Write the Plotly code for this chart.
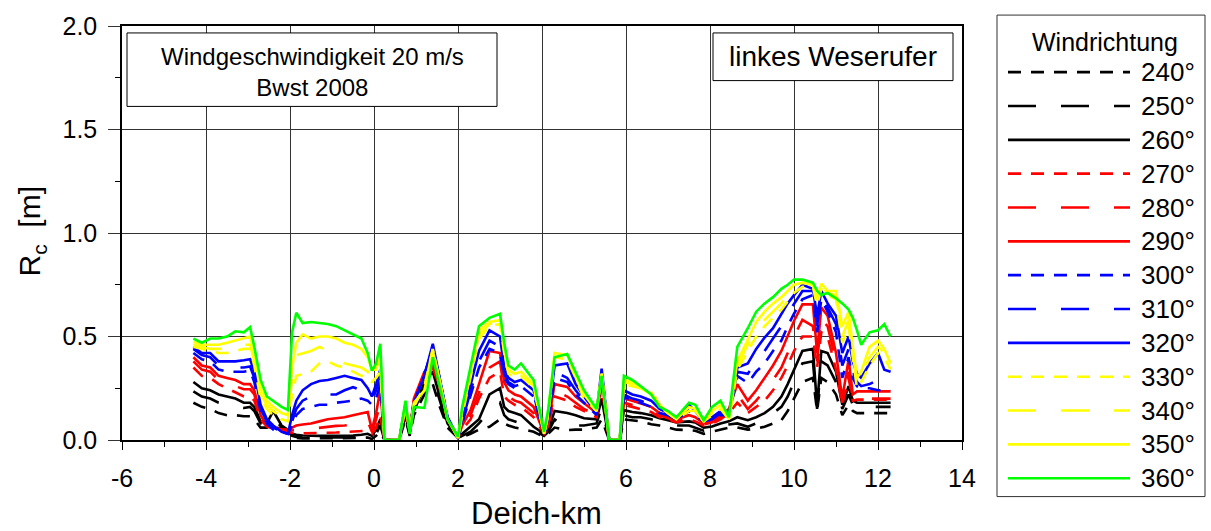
import plotly.graph_objects as go

# Deich-km stations along the left bank
deich_km = [
    -4.3, -4.1, -3.9, -3.7, -3.5, -3.3, -3.1, -2.95, -2.85, -2.7,
    -2.55, -2.4, -2.2, -2.05, -1.95, -1.85, -1.7, -1.5, -1.3, -1.1,
    -0.9, -0.7, -0.5, -0.3, -0.15, -0.05, 0.05, 0.15, 0.25, 0.6,
    0.75, 0.85, 0.95, 1.2, 1.4, 1.55, 1.75, 1.9, 2.0, 2.1,
    2.3, 2.5, 2.75, 3.0, 3.1, 3.2, 3.35, 3.5, 3.8, 4.05,
    4.15, 4.3, 4.6, 4.8, 5.0, 5.3, 5.42, 5.6, 5.85, 5.95,
    6.15, 6.35, 6.6, 6.8, 7.0, 7.2, 7.5, 7.65, 7.85, 8.05,
    8.25, 8.45, 8.65, 8.9, 9.1, 9.3, 9.5, 9.7, 9.85, 10.0,
    10.2, 10.45, 10.55, 10.65, 10.8, 11.0, 11.15, 11.3, 11.4, 11.5,
    11.6, 11.8, 12.0, 12.15, 12.3,
]

# Freibord R_c [m] per wind direction
rc_240 = [
    0.18, 0.16, 0.15, 0.13, 0.12, 0.12, 0.115, 0.115, 0.10, 0.06,
    0.06, 0.07, 0.05, 0.03, 0.012, 0.01, 0.008, 0.008, 0.008, 0.008,
    0.008, 0.008, 0.008, 0.01, 0.012, 0.005, 0.02, 0.04, 0.0, 0.0,
    0.10, 0.02, 0.12, 0.22, 0.27, 0.17, 0.06, 0.03, 0.01, 0.015,
    0.03, 0.05, 0.064, 0.10, 0.08, 0.07, 0.06, 0.055, 0.04, 0.015,
    0.03, 0.06, 0.048, 0.05, 0.05, 0.06, 0.10, 0.0, 0.0, 0.10,
    0.095, 0.09, 0.076, 0.07, 0.06, 0.05, 0.048, 0.045, 0.03, 0.04,
    0.05, 0.06, 0.06, 0.05, 0.055, 0.064, 0.08, 0.096, 0.14, 0.20,
    0.28, 0.30, 0.14, 0.30, 0.28, 0.22, 0.12, 0.17, 0.14, 0.13,
    0.13, 0.13, 0.13, 0.13, 0.13,
]
rc_250 = [
    0.235, 0.21, 0.20, 0.18, 0.17, 0.16, 0.155, 0.16, 0.14, 0.08,
    0.07, 0.11, 0.06, 0.04, 0.02, 0.015, 0.013, 0.012, 0.012, 0.012,
    0.012, 0.012, 0.013, 0.015, 0.02, 0.01, 0.03, 0.07, 0.0, 0.0,
    0.12, 0.03, 0.14, 0.26, 0.30, 0.20, 0.07, 0.03, 0.01, 0.02,
    0.04, 0.08, 0.14, 0.18, 0.12, 0.10, 0.09, 0.08, 0.05, 0.02,
    0.04, 0.10, 0.06, 0.07, 0.07, 0.08, 0.16, 0.0, 0.0, 0.12,
    0.11, 0.11, 0.10, 0.09, 0.08, 0.07, 0.07, 0.06, 0.045, 0.05,
    0.065, 0.075, 0.08, 0.064, 0.08, 0.105, 0.13, 0.16, 0.21, 0.28,
    0.37, 0.38, 0.15, 0.38, 0.36, 0.28, 0.15, 0.22, 0.17, 0.16,
    0.16, 0.16, 0.16, 0.16, 0.16,
]
rc_260 = [
    0.28, 0.25, 0.24, 0.22, 0.21, 0.20, 0.18, 0.18, 0.16, 0.09,
    0.08, 0.14, 0.07, 0.05, 0.03, 0.025, 0.022, 0.02, 0.02, 0.02,
    0.02, 0.02, 0.022, 0.025, 0.03, 0.02, 0.05, 0.10, 0.0, 0.0,
    0.13, 0.03, 0.15, 0.28, 0.33, 0.22, 0.08, 0.04, 0.01, 0.03,
    0.064, 0.10, 0.22, 0.25, 0.16, 0.14, 0.13, 0.12, 0.064, 0.03,
    0.05, 0.14, 0.13, 0.12, 0.105, 0.10, 0.20, 0.0, 0.0, 0.144,
    0.135, 0.13, 0.12, 0.105, 0.096, 0.085, 0.09, 0.085, 0.06, 0.065,
    0.08, 0.09, 0.11, 0.096, 0.11, 0.13, 0.16, 0.21, 0.27, 0.336,
    0.43, 0.44, 0.16, 0.43, 0.42, 0.33, 0.17, 0.26, 0.19, 0.18,
    0.18, 0.18, 0.18, 0.18, 0.18,
]
rc_270 = [
    0.35, 0.31, 0.30, 0.27, 0.25, 0.23, 0.21, 0.21, 0.19, 0.10,
    0.065, 0.055, 0.045, 0.04, 0.035, 0.032, 0.032, 0.033, 0.034, 0.035,
    0.036, 0.038, 0.04, 0.042, 0.045, 0.03, 0.06, 0.12, 0.0, 0.0,
    0.15, 0.04, 0.18, 0.31, 0.35, 0.26, 0.10, 0.05, 0.01, 0.05,
    0.10, 0.20, 0.30, 0.33, 0.21, 0.19, 0.17, 0.16, 0.11, 0.03,
    0.06, 0.21, 0.19, 0.16, 0.14, 0.11, 0.26, 0.0, 0.0, 0.17,
    0.16, 0.15, 0.135, 0.11, 0.10, 0.085, 0.10, 0.09, 0.07, 0.08,
    0.10, 0.13, 0.18, 0.13, 0.16, 0.19, 0.24, 0.30, 0.36, 0.43,
    0.50, 0.50, 0.35, 0.52, 0.50, 0.34, 0.17, 0.30, 0.19, 0.195,
    0.195, 0.195, 0.195, 0.195, 0.195,
]
rc_280 = [
    0.38, 0.34, 0.33, 0.29, 0.27, 0.26, 0.245, 0.245, 0.22, 0.11,
    0.07, 0.06, 0.05, 0.045, 0.045, 0.048, 0.05, 0.055, 0.06, 0.065,
    0.068, 0.07, 0.075, 0.085, 0.09, 0.04, 0.10, 0.18, 0.0, 0.0,
    0.15, 0.04, 0.19, 0.32, 0.36, 0.27, 0.10, 0.05, 0.01, 0.06,
    0.12, 0.23, 0.35, 0.38, 0.24, 0.21, 0.19, 0.18, 0.13, 0.03,
    0.07, 0.24, 0.21, 0.18, 0.15, 0.12, 0.28, 0.0, 0.0, 0.18,
    0.17, 0.16, 0.145, 0.12, 0.105, 0.09, 0.11, 0.10, 0.075, 0.085,
    0.11, 0.14, 0.22, 0.15, 0.19, 0.24, 0.29, 0.35, 0.42, 0.50,
    0.58, 0.55, 0.38, 0.58, 0.55, 0.38, 0.18, 0.33, 0.20, 0.20,
    0.20, 0.20, 0.20, 0.20, 0.20,
]
rc_290 = [
    0.40, 0.36, 0.35, 0.31, 0.30, 0.29, 0.27, 0.27, 0.24, 0.12,
    0.07, 0.06, 0.05, 0.05, 0.06, 0.07, 0.075, 0.08, 0.09, 0.10,
    0.105, 0.11, 0.12, 0.13, 0.135, 0.05, 0.13, 0.24, 0.0, 0.0,
    0.16, 0.04, 0.20, 0.33, 0.37, 0.28, 0.10, 0.05, 0.01, 0.07,
    0.144, 0.27, 0.43, 0.42, 0.28, 0.24, 0.22, 0.21, 0.16, 0.03,
    0.08, 0.27, 0.256, 0.21, 0.177, 0.13, 0.30, 0.0, 0.0, 0.20,
    0.19, 0.177, 0.16, 0.13, 0.115, 0.10, 0.12, 0.11, 0.08, 0.09,
    0.12, 0.15, 0.27, 0.19, 0.24, 0.30, 0.36, 0.43, 0.50, 0.575,
    0.655, 0.655, 0.42, 0.64, 0.60, 0.42, 0.20, 0.39, 0.22, 0.235,
    0.235, 0.235, 0.235, 0.235, 0.235,
]
rc_300 = [
    0.42, 0.39, 0.38, 0.34, 0.33, 0.33, 0.33, 0.335, 0.28, 0.14,
    0.08, 0.05, 0.04, 0.03, 0.07, 0.12, 0.15, 0.16, 0.17, 0.17,
    0.18, 0.185, 0.19, 0.20, 0.19, 0.17, 0.20, 0.27, 0.0, 0.0,
    0.17, 0.04, 0.18, 0.32, 0.44, 0.31, 0.11, 0.05, 0.01, 0.08,
    0.21, 0.35, 0.44, 0.42, 0.30, 0.27, 0.25, 0.26, 0.21, 0.03,
    0.09, 0.30, 0.28, 0.22, 0.18, 0.12, 0.32, 0.0, 0.0, 0.21,
    0.19, 0.18, 0.16, 0.13, 0.12, 0.10, 0.14, 0.12, 0.09, 0.10,
    0.12, 0.12, 0.31, 0.275, 0.33, 0.37, 0.43, 0.48, 0.55, 0.61,
    0.68, 0.70, 0.52, 0.68, 0.62, 0.52, 0.30, 0.40, 0.30, 0.26,
    0.25, 0.25, 0.24, 0.24, 0.24,
]
rc_310 = [
    0.44, 0.41, 0.40, 0.36, 0.35, 0.35, 0.35, 0.355, 0.30, 0.15,
    0.09, 0.06, 0.04, 0.03, 0.09, 0.15, 0.19, 0.21, 0.23, 0.22,
    0.22, 0.24, 0.255, 0.24, 0.21, 0.19, 0.24, 0.30, 0.0, 0.0,
    0.17, 0.04, 0.18, 0.31, 0.45, 0.31, 0.11, 0.05, 0.01, 0.09,
    0.24, 0.38, 0.48, 0.45, 0.32, 0.28, 0.26, 0.27, 0.22, 0.03,
    0.10, 0.33, 0.30, 0.24, 0.19, 0.13, 0.33, 0.0, 0.0, 0.22,
    0.20, 0.19, 0.17, 0.14, 0.12, 0.10, 0.15, 0.13, 0.09, 0.10,
    0.13, 0.12, 0.33, 0.32, 0.38, 0.43, 0.49, 0.55, 0.61, 0.66,
    0.72, 0.72, 0.55, 0.70, 0.64, 0.56, 0.36, 0.44, 0.33, 0.28,
    0.26, 0.27, 0.29, 0.25, 0.24,
]
rc_320 = [
    0.45, 0.42, 0.42, 0.38, 0.38, 0.38, 0.385, 0.39, 0.33, 0.17,
    0.10, 0.07, 0.04, 0.03, 0.12, 0.19, 0.24, 0.27, 0.285, 0.29,
    0.30, 0.31, 0.30, 0.29, 0.25, 0.21, 0.27, 0.34, 0.0, 0.0,
    0.17, 0.04, 0.18, 0.31, 0.465, 0.31, 0.11, 0.05, 0.01, 0.10,
    0.27, 0.43, 0.53, 0.50, 0.35, 0.30, 0.28, 0.29, 0.24, 0.03,
    0.11, 0.36, 0.37, 0.27, 0.21, 0.13, 0.345, 0.0, 0.0, 0.24,
    0.22, 0.21, 0.19, 0.15, 0.13, 0.10, 0.17, 0.14, 0.09, 0.11,
    0.14, 0.12, 0.35, 0.37, 0.44, 0.495, 0.54, 0.61, 0.66, 0.70,
    0.75, 0.73, 0.60, 0.72, 0.66, 0.60, 0.42, 0.50, 0.38, 0.32,
    0.30, 0.37, 0.42, 0.34, 0.33,
]
rc_330 = [
    0.45, 0.44, 0.43, 0.42, 0.42, 0.43, 0.44, 0.44, 0.36, 0.20,
    0.15, 0.12, 0.10, 0.09, 0.22, 0.31, 0.32, 0.33, 0.37, 0.38,
    0.36, 0.35, 0.33, 0.31, 0.30, 0.28, 0.30, 0.33, 0.0, 0.0,
    0.16, 0.04, 0.16, 0.26, 0.44, 0.30, 0.10, 0.05, 0.01, 0.12,
    0.30, 0.49, 0.55, 0.56, 0.42, 0.32, 0.30, 0.31, 0.25, 0.03,
    0.12, 0.40, 0.39, 0.30, 0.20, 0.14, 0.32, 0.0, 0.0, 0.27,
    0.26, 0.25, 0.23, 0.16, 0.13, 0.10, 0.14, 0.14, 0.09, 0.12,
    0.15, 0.10, 0.34, 0.43, 0.50, 0.55, 0.59, 0.63, 0.67, 0.71,
    0.74, 0.74, 0.65, 0.73, 0.70, 0.68, 0.47, 0.55, 0.40, 0.25,
    0.28, 0.36, 0.42, 0.40, 0.34,
]
rc_340 = [
    0.46, 0.45, 0.44, 0.44, 0.44, 0.45, 0.46, 0.46, 0.38, 0.22,
    0.17, 0.14, 0.11, 0.10, 0.30, 0.41, 0.42, 0.43, 0.45, 0.43,
    0.40, 0.37, 0.36, 0.35, 0.33, 0.30, 0.31, 0.36, 0.0, 0.0,
    0.17, 0.04, 0.17, 0.25, 0.44, 0.30, 0.10, 0.05, 0.01, 0.13,
    0.32, 0.51, 0.56, 0.57, 0.43, 0.33, 0.31, 0.32, 0.26, 0.03,
    0.13, 0.41, 0.40, 0.31, 0.21, 0.14, 0.32, 0.0, 0.0, 0.28,
    0.27, 0.26, 0.24, 0.17, 0.13, 0.10, 0.15, 0.14, 0.09, 0.13,
    0.16, 0.10, 0.36, 0.46, 0.53, 0.58, 0.62, 0.66, 0.70, 0.74,
    0.76, 0.75, 0.66, 0.74, 0.71, 0.70, 0.50, 0.58, 0.42, 0.27,
    0.30, 0.40, 0.45, 0.42, 0.36,
]
rc_350 = [
    0.475, 0.46, 0.46, 0.46, 0.47, 0.48, 0.49, 0.50, 0.42, 0.25,
    0.19, 0.16, 0.13, 0.12, 0.35, 0.47, 0.51, 0.49, 0.50, 0.50,
    0.49, 0.47, 0.46, 0.44, 0.40, 0.34, 0.34, 0.40, 0.0, 0.0,
    0.18, 0.04, 0.18, 0.24, 0.43, 0.30, 0.10, 0.05, 0.01, 0.14,
    0.335, 0.53, 0.57, 0.58, 0.45, 0.34, 0.32, 0.33, 0.27, 0.03,
    0.14, 0.42, 0.41, 0.32, 0.22, 0.14, 0.32, 0.0, 0.0, 0.29,
    0.28, 0.25, 0.22, 0.17, 0.13, 0.10, 0.16, 0.15, 0.09, 0.14,
    0.17, 0.10, 0.38, 0.49, 0.57, 0.62, 0.66, 0.69, 0.72, 0.75,
    0.76, 0.75, 0.68, 0.755, 0.72, 0.72, 0.55, 0.62, 0.45, 0.30,
    0.33, 0.45, 0.48, 0.44, 0.37,
]
rc_360 = [
    0.49, 0.47, 0.49, 0.49, 0.50, 0.525, 0.52, 0.545, 0.45, 0.29,
    0.21, 0.19, 0.16, 0.145, 0.52, 0.615, 0.565, 0.57, 0.565, 0.56,
    0.55, 0.53, 0.51, 0.49, 0.42, 0.335, 0.37, 0.465, 0.0, 0.0,
    0.19, 0.03, 0.16, 0.155, 0.40, 0.27, 0.10, 0.05, 0.015, 0.16,
    0.35, 0.55, 0.59, 0.61, 0.47, 0.36, 0.34, 0.37, 0.29, 0.04,
    0.15, 0.40, 0.415, 0.33, 0.24, 0.15, 0.31, 0.0, 0.0, 0.31,
    0.29, 0.26, 0.22, 0.16, 0.14, 0.11, 0.18, 0.17, 0.096, 0.16,
    0.19, 0.11, 0.45, 0.54, 0.62, 0.66, 0.69, 0.73, 0.75, 0.775,
    0.775, 0.76, 0.72, 0.70, 0.71, 0.685, 0.66, 0.63, 0.59, 0.53,
    0.46, 0.52, 0.53, 0.56, 0.50,
]

directions = ["240°", "250°", "260°", "270°", "280°", "290°", "300°",
              "310°", "320°", "330°", "340°", "350°", "360°"]
series = [rc_240, rc_250, rc_260, rc_270, rc_280, rc_290, rc_300,
          rc_310, rc_320, rc_330, rc_340, rc_350, rc_360]

# x-axis tick labels (plain hyphen for negatives)
km_ticks = [-6, -4, -2, 0, 2, 4, 6, 8, 10, 12, 14]
km_tick_labels = ["-6", "-4", "-2", "0", "2", "4", "6", "8", "10", "12", "14"]

for s in series:
    assert len(s) == len(deich_km)

# line styles: colour per group of three directions, dash pattern within group
SHORT = "13px,10px"
LONG = "28px,25px"
colors = ["#000000"] * 3 + ["#FF0000"] * 3 + ["#0000FF"] * 3 + ["#FFFF00"] * 3 + ["#00FF00"]
dashes = [SHORT, LONG, "solid"] * 4 + ["solid"]
LINE_W = 2.6

FONT = "Liberation Sans, Arial, sans-serif"
W, H = 1211, 531
PL, PR, PT, PB = 122, 962, 23, 440


def fx(px):
    return (px - PL) / (PR - PL)


def fy(py):
    return (PB - py) / (PB - PT)


fig = go.Figure()
for name, vals, col, dsh in zip(directions, series, colors, dashes):
    fig.add_trace(go.Scatter(
        x=deich_km, y=vals, mode="lines", name=name,
        line=dict(color=col, width=LINE_W, dash=dsh),
        showlegend=False, hoverinfo="skip",
    ))

shapes = []
annotations = []

# text boxes inside the plot
shapes.append(dict(type="rect", xref="paper", yref="paper",
                   x0=fx(127), x1=fx(497), y0=fy(104), y1=fy(30),
                   line=dict(color="#000000", width=1), fillcolor="white"))
annotations.append(dict(xref="paper", yref="paper", x=fx(312), y=fy(69),
                        text="Windgeschwindigkeit 20 m/s<br>Bwst 2008",
                        showarrow=False, xanchor="center", yanchor="middle",
                        font=dict(family=FONT, size=24, color="black")))
shapes.append(dict(type="rect", xref="paper", yref="paper",
                   x0=fx(713), x1=fx(953), y0=fy(78), y1=fy(30),
                   line=dict(color="#000000", width=1), fillcolor="white"))
annotations.append(dict(xref="paper", yref="paper", x=fx(833), y=fy(54),
                        text="linkes Weserufer", showarrow=False,
                        xanchor="center", yanchor="middle",
                        font=dict(family=FONT, size=28, color="black")))

# legend panel
shapes.append(dict(type="rect", xref="paper", yref="paper",
                   x0=fx(997), x1=fx(1205), y0=fy(497), y1=fy(12),
                   line=dict(color="#333333", width=1), fillcolor="white"))
annotations.append(dict(xref="paper", yref="paper", x=fx(1105), y=fy(39),
                        text="Windrichtung", showarrow=False,
                        xanchor="center", yanchor="middle",
                        font=dict(family=FONT, size=25, color="black")))
for i, (name, col, dsh) in enumerate(zip(directions, colors, dashes)):
    yy = 69.5 + i * 34.08
    shapes.append(dict(type="line", xref="paper", yref="paper",
                       x0=fx(1008), x1=fx(1130), y0=fy(yy), y1=fy(yy),
                       line=dict(color=col, width=LINE_W, dash=dsh)))
    annotations.append(dict(xref="paper", yref="paper", x=fx(1139), y=fy(yy),
                            text=name, showarrow=False,
                            xanchor="left", yanchor="middle",
                            font=dict(family=FONT, size=26, color="black")))

# axis titles
annotations.append(dict(xref="paper", yref="paper", x=fx(536), y=fy(514),
                        text="Deich-km", showarrow=False,
                        xanchor="center", yanchor="middle",
                        font=dict(family=FONT, size=31, color="black")))
annotations.append(dict(xref="paper", yref="paper", x=fx(32), y=fy(230),
                        text="R<sub>c</sub>  [m]", showarrow=False, textangle=-90,
                        xanchor="center", yanchor="middle",
                        font=dict(family=FONT, size=30, color="black")))

fig.update_layout(
    width=W, height=H, autosize=False,
    margin=dict(l=PL, r=W - PR, t=PT, b=H - PB, pad=0),
    paper_bgcolor="white", plot_bgcolor="white",
    shapes=shapes, annotations=annotations,
    showlegend=False,
)
fig.update_xaxes(
    range=[-6, 14], tickmode="array", tickvals=km_ticks, ticktext=km_tick_labels,
    showgrid=True, gridcolor="#333333", gridwidth=1,
    showline=True, linecolor="#000000", linewidth=1.5, mirror=True,
    zeroline=False, ticks="outside", ticklen=8, tickcolor="#000000",
    minor=dict(dtick=1, tick0=0, ticks="outside", ticklen=5, tickcolor="#000000", showgrid=False),
    tickfont=dict(family=FONT, size=25, color="black"),
    ticklabelstandoff=7,
)
fig.update_yaxes(
    range=[0, 2], dtick=0.5, tick0=0, tickformat=".1f",
    showgrid=True, gridcolor="#333333", gridwidth=1,
    showline=True, linecolor="#000000", linewidth=1.5, mirror=True,
    zeroline=False, ticks="outside", ticklen=12, tickcolor="#333333",
    minor=dict(dtick=0.25, ticks="outside", ticklen=5, tickcolor="#000000", showgrid=False),
    tickfont=dict(family=FONT, size=25, color="black"),
    ticklabelstandoff=6,
)

fig.write_html("out.html")
